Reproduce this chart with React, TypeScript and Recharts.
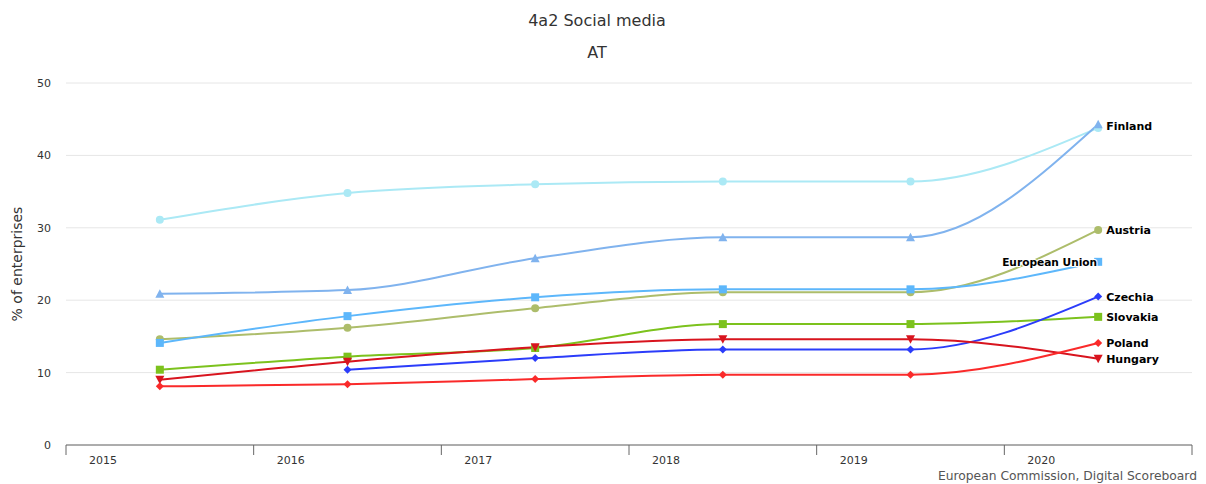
import React from 'react';
import { LineChart, Line, XAxis, YAxis, CartesianGrid, LabelList } from 'recharts';

const years = ['2015', '2016', '2017', '2018', '2019', '2020'];
const yTicks = [0, 10, 20, 30, 40, 50];

const finland = [31.1, 34.8, 36.0, 36.4, 36.4, 43.8];
const topTriangle = [20.9, 21.4, 25.8, 28.7, 28.7, 44.3];
const europeanUnion = [14.1, 17.8, 20.4, 21.5, 21.5, 25.3];
const austria = [14.6, 16.2, 18.9, 21.1, 21.1, 29.7];
const slovakia = [10.4, 12.2, 13.4, 16.7, 16.7, 17.7];
const czechia = [null, 10.4, 12.0, 13.2, 13.2, 20.5];
const hungary = [9.0, 11.5, 13.5, 14.6, 14.6, 11.9];
const poland = [8.1, 8.4, 9.1, 9.7, 9.7, 14.1];

const data = years.map((year, i) => ({
  x: i + 0.5,
  year,
  finland: finland[i],
  topTriangle: topTriangle[i],
  europeanUnion: europeanUnion[i],
  austria: austria[i],
  slovakia: slovakia[i],
  czechia: czechia[i],
  hungary: hungary[i],
  poland: poland[i],
}));

const FONT = '"DejaVu Sans", sans-serif';

type Shape = 'circle' | 'square' | 'triangle' | 'triangleDown' | 'diamond';

const makeDot = (shape: Shape, color: string) => (props: any) => {
  const { cx, cy, index, value } = props;
  const key = `d-${shape}-${color}-${index}`;
  if (cx == null || cy == null || value == null || (Array.isArray(value) && value[1] == null)) return <g key={key} />;
  if (shape === 'circle') return <circle key={key} cx={cx} cy={cy} r={4} fill={color} />;
  if (shape === 'square') return <rect key={key} x={cx - 4} y={cy - 4} width={8} height={8} fill={color} />;
  if (shape === 'triangle')
    return <path key={key} d={`M${cx},${cy - 4.5} L${cx + 4.5},${cy + 4} L${cx - 4.5},${cy + 4} Z`} fill={color} />;
  if (shape === 'triangleDown')
    return <path key={key} d={`M${cx - 4.5},${cy - 4} L${cx + 4.5},${cy - 4} L${cx},${cy + 4.5} Z`} fill={color} />;
  return <path key={key} d={`M${cx},${cy - 4} L${cx + 4},${cy} L${cx},${cy + 4} L${cx - 4},${cy} Z`} fill={color} />;
};

const endLabel = (name: string, side: 'right' | 'left', shift = 0) => (props: any) => {
  const { x, y, index } = props;
  if (index !== years.length - 1) return null;
  return (
    <text
      x={side === 'right' ? x + 8 : x - 1}
      y={y + shift}
      dy={4}
      textAnchor={side === 'right' ? 'start' : 'end'}
      fontFamily={FONT}
      fontSize={side === 'right' ? 11 : 10.6}
      fontWeight="bold"
      fill="#000"
      stroke="#fff"
      strokeWidth={2}
      strokeLinejoin="round"
      paintOrder="stroke"
    >
      {name}
    </text>
  );
};

const XTick = (props: any) => {
  const { x, y, payload } = props;
  const i = payload.value;
  if (i >= years.length) return null;
  return (
    <text x={x + 37} y={y + 9} textAnchor="middle" fontFamily={FONT} fontSize={11} fill="#333">
      {years[i]}
    </text>
  );
};

const YTick = (props: any) => {
  const { y, payload } = props;
  return (
    <text x={51} y={y + 4} textAnchor="end" fontFamily={FONT} fontSize={11} fill="#333">
      {payload.value}
    </text>
  );
};

const series = [
  { key: 'finland', color: '#abe9f5', shape: 'circle' as Shape, label: 'Finland', side: 'right' as const, shift: -2 },
  { key: 'topTriangle', color: '#80b3ee', shape: 'triangle' as Shape, label: '', side: 'right' as const, shift: 0 },
  { key: 'austria', color: '#adbd6b', shape: 'circle' as Shape, label: 'Austria', side: 'right' as const, shift: 0 },
  { key: 'europeanUnion', color: '#5db7fb', shape: 'square' as Shape, label: 'European Union', side: 'left' as const, shift: 0 },
  { key: 'slovakia', color: '#7cc21d', shape: 'square' as Shape, label: 'Slovakia', side: 'right' as const, shift: 0 },
  { key: 'czechia', color: '#2b3cfa', shape: 'diamond' as Shape, label: 'Czechia', side: 'right' as const, shift: 0 },
  { key: 'hungary', color: '#d8141e', shape: 'triangleDown' as Shape, label: 'Hungary', side: 'right' as const, shift: 0 },
  { key: 'poland', color: '#fa2a2a', shape: 'diamond' as Shape, label: 'Poland', side: 'right' as const, shift: 0 },
];

export default function App() {
  return (
    <div style={{ position: 'absolute', left: 0, top: 0, width: 1206, height: 484, background: '#fff', fontFamily: FONT }}>
      <div style={{ position: 'absolute', left: 0, top: 9, width: 1194, textAlign: 'center', fontSize: 16, lineHeight: '24px', color: '#333' }}>
        4a2 Social media
      </div>
      <div style={{ position: 'absolute', left: 0, top: 41, width: 1194, textAlign: 'center', fontSize: 16, lineHeight: '24px', color: '#333' }}>
        AT
      </div>
      <div
        style={{
          position: 'absolute',
          left: 17,
          top: 264,
          transform: 'translate(-50%, -50%) rotate(-90deg)',
          whiteSpace: 'nowrap',
          fontSize: 14,
          color: '#333',
        }}
      >
        % of enterprises
      </div>
      <div style={{ position: 'absolute', right: 9, top: 469, fontSize: 12.3, lineHeight: '15px', color: '#555', whiteSpace: 'nowrap' }}>
        European Commission, Digital Scoreboard
      </div>
      <div style={{ position: 'absolute', left: 0, top: 0 }}>
        <LineChart width={1206} height={484} data={data} margin={{ top: 83, right: 14, bottom: 0, left: 16 }}>
          <CartesianGrid horizontal vertical={false} stroke="#e6e6e6" />
          <XAxis
            dataKey="x"
            type="number"
            domain={[0, 6]}
            ticks={[0, 1, 2, 3, 4, 5, 6]}
            height={39}
            tickSize={10}
            tickMargin={0}
            stroke="#666"
            axisLine={{ stroke: '#666' }}
            tickLine={{ stroke: '#666' }}
            tick={<XTick />}
            allowDataOverflow
          />
          <YAxis
            type="number"
            domain={[0, 50]}
            ticks={yTicks}
            width={50}
            axisLine={false}
            tickLine={false}
            tick={<YTick />}
          />
          {series.map((s) => (
            <Line
              key={s.key}
              dataKey={s.key}
              type="monotone"
              stroke={s.color}
              strokeWidth={2}
              dot={makeDot(s.shape, s.color)}
              activeDot={false}
              isAnimationActive={false}
            >
              {s.label ? <LabelList dataKey={s.key} content={endLabel(s.label, s.side, s.shift)} /> : null}
            </Line>
          ))}
        </LineChart>
      </div>
    </div>
  );
}
